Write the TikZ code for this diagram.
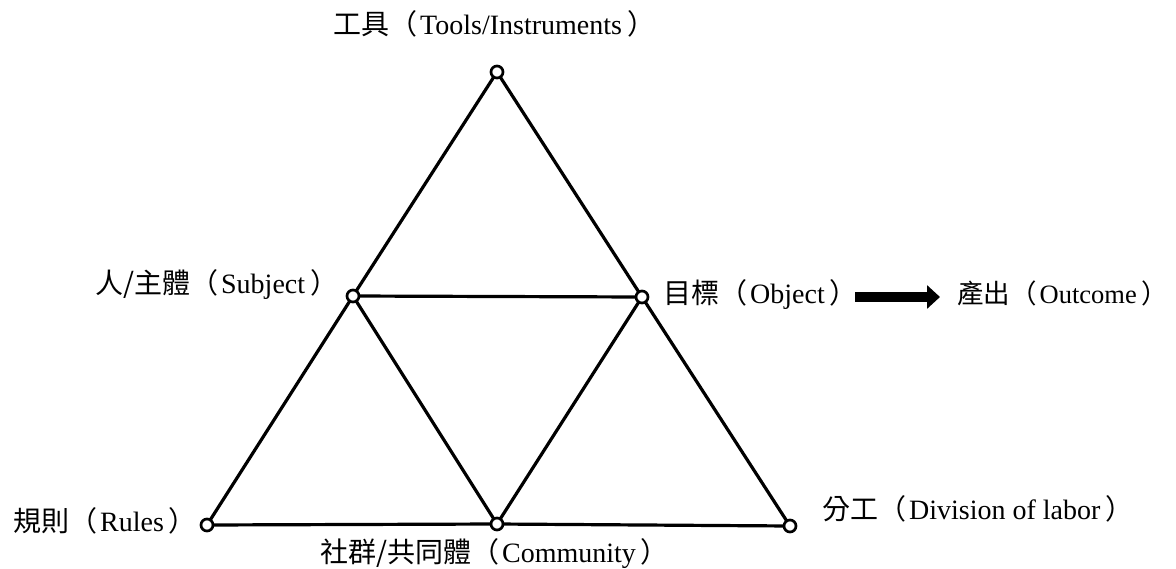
\documentclass[tikz,border=0pt]{standalone}
\usepackage{fontspec}
\setmainfont{Liberation Serif}
\newfontfamily\cjk{Noto Sans CJK TC}
\usetikzlibrary{arrows.meta}
\newcommand{\lp}{{\cjk （}\hspace{3pt}}
\newcommand{\rp}{\hspace{5pt}{\cjk ）}}
\begin{document}
\begin{tikzpicture}[x=1pt,y=-1pt,
  vtx/.style={circle,draw,line width=2.7pt,fill=white,minimum size=12pt,inner sep=0pt},
  edge/.style={line width=3.2pt},
  lbl/.style={font=\fontsize{28}{32}\selectfont,inner sep=0pt,text height=20pt,text depth=6pt}]
\useasboundingbox (0,0) rectangle (1176,568);
\coordinate (Tp) at (497,72);
\coordinate (Sp) at (353,296);
\coordinate (Op) at (642,297);
\coordinate (Rp) at (207,525);
\coordinate (Cp) at (497,524);
\coordinate (Dp) at (790,526);
\draw[edge] (Tp) -- (Sp) -- (Rp) -- (Cp) -- (Dp) -- (Op) -- (Tp);
\draw[edge] (Sp) -- (Op) -- (Cp) -- (Sp);
\node[vtx] (T) at (Tp) {};
\node[vtx] (S) at (Sp) {};
\node[vtx] (O) at (Op) {};
\node[vtx] (R) at (Rp) {};
\node[vtx] (C) at (Cp) {};
\node[vtx] (D) at (Dp) {};
\node[lbl,anchor=west] (lt) at (333,27) {{\cjk 工具}\lp Tools/Instruments\rp};
\node[lbl,anchor=west] (ls) at (95,286) {{\cjk 人/主體}\lp Subject\rp};
\node[lbl,anchor=west] (lo) at (663,296) {{\cjk 目標}\lp Object\rp};
\node[lbl,anchor=west,font=\fontsize{26.5}{30}\selectfont] (lout) at (957,296) {{\cjk 產出}\lp Outcome\rp};
\node[lbl,anchor=west] (lr) at (13,524) {{\cjk 規則}\lp Rules\rp};
\node[lbl,anchor=west] (ld) at (822,512) {{\cjk 分工}\lp Division of labor\rp};
\node[lbl,anchor=west] (lc) at (320,555) {{\cjk 社群/共同體}\lp Community\rp};
\coordinate (as) at (855,297);
\coordinate (ae) at (940,297);
\draw[line width=10pt,-{Triangle[length=13pt,width=23pt]}] (as) -- (ae);
\end{tikzpicture}
\end{document}
